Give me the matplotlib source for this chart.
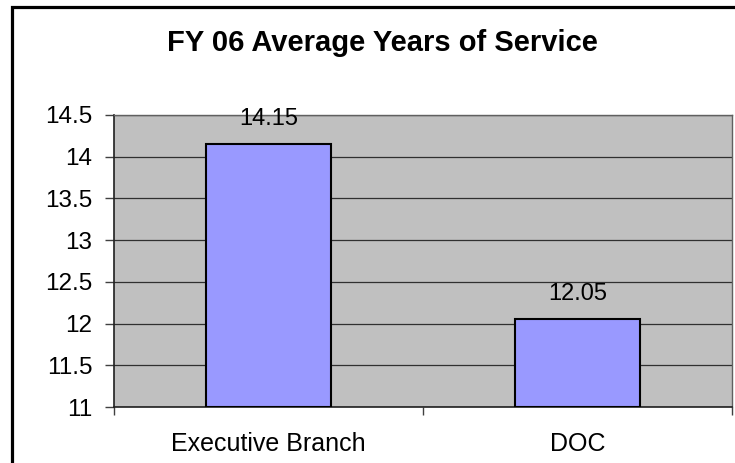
import matplotlib.pyplot as plt
from matplotlib.patches import Rectangle
from matplotlib.ticker import FixedLocator

# chart data
categories = ['Executive Branch', 'DOC']
years = [14.15, 12.05]
y_ticks = [11, 11.5, 12, 12.5, 13, 13.5, 14, 14.5]

PLOT_BGCOLOR = '#C0C0C0'
BARS_COLOUR = '#9999FF'

plt.rcParams['font.family'] = ['Liberation Sans', 'DejaVu Sans']

fig = plt.figure(figsize=(7.35, 4.63), dpi=100)
fig.set_facecolor('white')
ax = fig.add_axes([114 / 735, 1 - 407 / 463, (732 - 114) / 735, (407 - 115) / 463])
ax.set_facecolor(PLOT_BGCOLOR)

pos = list(range(len(categories)))
ax.bar(pos, [v - y_ticks[0] for v in years], bottom=y_ticks[0], width=0.405,
       color=BARS_COLOUR, edgecolor='black', linewidth=1.5, zorder=3)

for x, v in zip(pos, years):
    ax.annotate(f'{v:.2f}', (x, v), xytext=(0, 14), textcoords='offset points',
                ha='center', va='baseline', fontsize=17, zorder=4)

ax.set_xlim(-0.5, len(categories) - 0.5)
ax.set_ylim(y_ticks[0], y_ticks[-1])
ax.set_yticks(y_ticks)
ax.set_yticklabels([f'{t:g}' for t in y_ticks], fontsize=17.5)
ax.yaxis.grid(True, color='#303030', linewidth=0.9, zorder=1)
ax.set_axisbelow(True)

# category boundaries as ticks, labels in the middle
ax.xaxis.set_major_locator(FixedLocator([p - 0.5 for p in pos] + [pos[-1] + 0.5]))
ax.xaxis.set_minor_locator(FixedLocator(pos))
ax.set_xticklabels([])
ax.set_xticklabels(categories, minor=True, fontsize=18)
ax.tick_params(axis='x', which='minor', length=0, pad=18)
ax.tick_params(axis='x', which='major', length=6, width=1, color='#404040')
ax.tick_params(axis='y', which='major', length=6.5, width=1, color='#404040', pad=9)

for side in ['left', 'bottom']:
    ax.spines[side].set_color('#202020')
    ax.spines[side].set_linewidth(1.2)
for side in ['top', 'right']:
    ax.spines[side].set_color('#606060')
    ax.spines[side].set_linewidth(1.0)

fig.text(382 / 735, 1 - 51 / 463, 'FY 06 Average Years of Service', ha='center', va='baseline',
         fontsize=21, fontweight='bold')

# chart area border
fig.patches.append(Rectangle((12 / 735, -0.1), 1.2, 1.1 - 7 / 463,
                             transform=fig.transFigure, fill=False,
                             edgecolor='black', linewidth=2.3))

fig.savefig('out.png', dpi=100)
